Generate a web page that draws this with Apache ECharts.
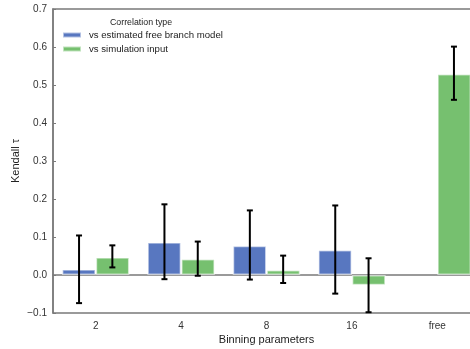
<!DOCTYPE html>
<html><head><meta charset="utf-8">
<script src="https://cdn.jsdelivr.net/npm/echarts@6/dist/echarts.min.js"></script>
<style>html,body{margin:0;padding:0;background:#fff}#c{width:470px;height:349px}</style>
</head><body><div id="c"></div>
<script>
var categories = ['2', '4', '8', '16', 'free'];
var seriesNames = ['vs estimated free branch model', 'vs simulation input'];
var freeModel = [0.015, 0.086, 0.077, 0.066, null];
var freeModelLow = [-0.074, -0.011, -0.012, -0.049, null];
var freeModelHigh = [0.104, 0.186, 0.170, 0.183, null];
var simInput = [0.047, 0.042, 0.013, -0.027, 0.529];
var simInputLow = [0.020, -0.002, -0.021, -0.098, 0.461];
var simInputHigh = [0.078, 0.088, 0.051, 0.044, 0.601];
var yTicks = [-0.1, 0.0, 0.1, 0.2, 0.3, 0.4, 0.5, 0.6, 0.7];

var chart = echarts.init(document.getElementById('c'), null, {renderer: 'canvas'});
var font = 'Liberation Sans, Arial, sans-serif';

function errorSeries(low, high, seriesIdx) {
  var data = [];
  for (var i = 0; i < categories.length; i++) {
    if (low[i] != null) data.push([i, low[i], high[i]]);
  }
  return {
    type: 'custom',
    z: 10,
    silent: true,
    data: data,
    encode: {x: 0, y: [1, 2]},
    renderItem: function (params, api) {
      var ci = api.value(0);
      var lo = api.coord([ci, api.value(1)]);
      var hi = api.coord([ci, api.value(2)]);
      var bw = api.size([1, 0])[0];
      var barW = bw * 0.39;
      var x = lo[0] + (seriesIdx === 0 ? -barW / 2 : barW / 2);
      var cap = 3;
      var st = {stroke: '#000', lineWidth: 2};
      return {type: 'group', children: [
        {type: 'line', shape: {x1: x, y1: lo[1], x2: x, y2: hi[1]}, style: st},
        {type: 'line', shape: {x1: x - cap, y1: lo[1], x2: x + cap, y2: lo[1]}, style: st},
        {type: 'line', shape: {x1: x - cap, y1: hi[1], x2: x + cap, y2: hi[1]}, style: st}
      ]};
    }
  };
}

var option = {
  animation: false,
  textStyle: {fontFamily: font},
  grid: {left: 53, top: 9, width: 427, height: 304, outerBoundsMode: 'none', containLabel: false,
    show: true, borderColor: '#7a7a7a', borderWidth: 1.5, backgroundColor: 'transparent'},
  legend: {
    left: 62, top: 30, orient: 'vertical', itemWidth: 18, itemHeight: 5, itemGap: 4,
    icon: 'rect', padding: 0,
    textStyle: {fontSize: 9.6, color: '#222', fontFamily: font, padding: [0, 0, 0, 3]},
    data: seriesNames
  },
  graphic: [{type: 'text', left: 110, top: 18, style: {text: 'Correlation type', fontSize: 8.8, fill: '#222', fontFamily: font}}],
  xAxis: {
    type: 'category', data: categories,
    name: 'Binning parameters', nameLocation: 'middle', nameGap: 21, nameMoveOverlap: false,
    nameTextStyle: {fontSize: 11, color: '#222', fontFamily: font},
    axisLine: {lineStyle: {color: '#7a7a7a', width: 1.5}},
    axisTick: {alignWithLabel: true, inside: true, length: 3, lineStyle: {color: '#7a7a7a'}},
    axisLabel: {fontSize: 10, color: '#333', margin: 8}
  },
  yAxis: {
    type: 'value', min: -0.1, max: 0.7, interval: 0.1,
    name: 'Kendall τ', nameLocation: 'middle', nameGap: 32, nameMoveOverlap: false,
    nameTextStyle: {fontSize: 11, color: '#222', fontFamily: font},
    axisLine: {show: true, lineStyle: {color: '#7a7a7a', width: 1.5}},
    axisTick: {show: true, inside: true, length: 3, lineStyle: {color: '#7a7a7a'}},
    splitLine: {show: false},
    axisLabel: {fontSize: 10, color: '#333', margin: 6,
      formatter: function (v) { return (Math.round(v * 10) / 10).toFixed(1).replace('-', '−'); }}
  },
  series: [
    {name: seriesNames[0], type: 'bar', data: freeModel, barGap: '0%', barCategoryGap: '21%',
      itemStyle: {color: '#5877c0', borderColor: 'rgba(255,255,255,0.55)', borderWidth: 1.5}},
    {name: seriesNames[1], type: 'bar', data: simInput,
      itemStyle: {color: '#76c06f', borderColor: 'rgba(255,255,255,0.55)', borderWidth: 1.5}},
    errorSeries(freeModelLow, freeModelHigh, 0),
    errorSeries(simInputLow, simInputHigh, 1)
  ]
};
chart.setOption(option);
</script></body></html>
